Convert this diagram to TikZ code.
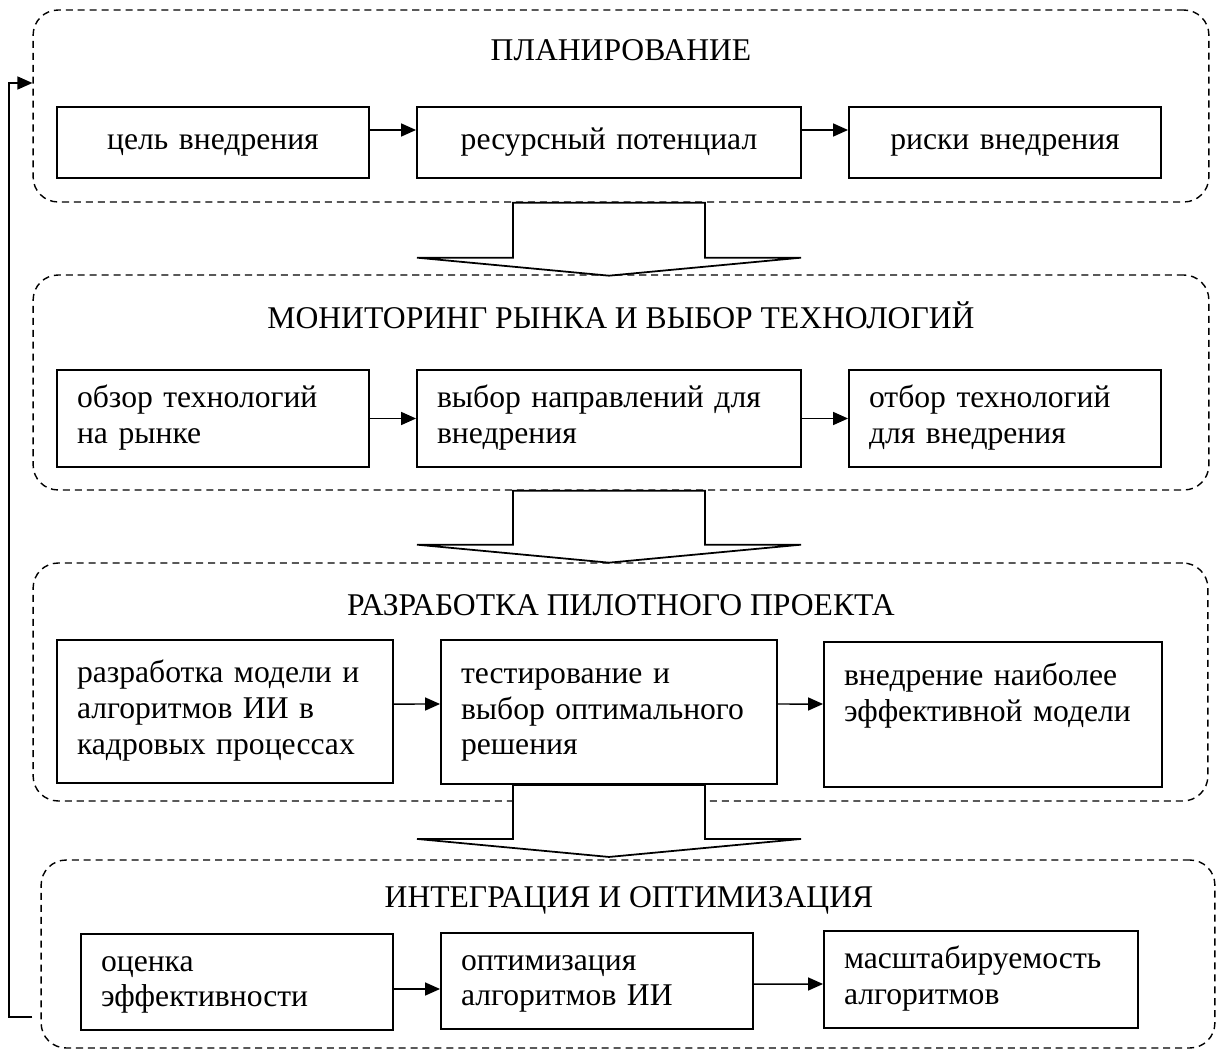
\documentclass[tikz,border=0pt]{standalone}
\usepackage{fontspec}
\setmainfont{Liberation Serif}
\usepackage{tikz}
\usetikzlibrary{shapes,arrows.meta,positioning,calc}

\tikzset{
    stage/.style={draw, dash pattern=on 4pt off 2.8pt, line width=0.8pt, rounded corners=0.5cm, inner sep=0pt},
    box/.style={draw, line width=1.1pt, inner xsep=0.4cm, inner ysep=0pt, align=left,
        execute at begin node=\strut, execute at end node=\strut},
    arr/.style={-{Triangle[length=0.3cm,width=0.26cm]}, line width=0.85pt},
    bigarrow/.style={draw, fill=white, line width=1pt},
    title/.style={inner sep=0pt}
}

\begin{document}
\begin{tikzpicture}[x=0.02cm, y=-0.02cm, font=\fontsize{18}{20.3}\selectfont]
        \useasboundingbox (0,0) rectangle (1217,1050);

        \node[stage, minimum width=23.52cm, minimum height=3.84cm] (plan) at (621,106) {};
        \node[stage, minimum width=23.52cm, minimum height=4.3cm] (mon) at (621,382.5) {};
        \node[stage, minimum width=23.5cm, minimum height=4.76cm] (dev) at (620.5,682) {};
        \node[stage, minimum width=23.48cm, minimum height=3.76cm] (integ) at (628,954) {};

        \node[title] (tplan) at (621,50) {ПЛАНИРОВАНИЕ};
        \node[title] (tmon) at (621,315) {МОНИТОРИНГ РЫНКА И ВЫБОР ТЕХНОЛОГИЙ};
        \node[title] (tdev) at (621,605) {РАЗРАБОТКА ПИЛОТНОГО ПРОЕКТА};
        \node[title] (tinteg) at (629,900) {ИНТЕГРАЦИЯ И ОПТИМИЗАЦИЯ};

        \node[box, align=center, text width=5.44cm, minimum height=1.42cm] (c1) at (213,142.5) {цель внедрения};
        \node[box, align=center, text width=6.88cm, minimum height=1.42cm] (c2) at (609,142.5) {ресурсный потенциал};
        \node[box, align=center, text width=5.44cm, minimum height=1.42cm] (c3) at (1005,142.5) {риски внедрения};

        \node[box, text width=5.44cm, minimum height=1.94cm] (m1) at (213,418.5) {обзор технологий\\на рынке};
        \node[box, text width=6.88cm, minimum height=1.94cm] (m2) at (609,418.5) {выбор направлений для\\внедрения};
        \node[box, text width=5.44cm, minimum height=1.94cm] (m3) at (1005,418.5) {отбор технологий\\для внедрения};

        \node[box, text width=5.92cm, minimum height=2.86cm] (r1) at (225,711.5) {разработка модели и\\алгоритмов ИИ в\\кадровых процессах};
        \node[box, text width=5.92cm, minimum height=2.88cm] (r2) at (609,712) {тестирование и\\выбор оптимального\\решения};
        \node[box, text width=5.96cm, minimum height=2.9cm] (r3) at (993,714.5) {внедрение наиболее\\эффективной модели\\};

        \node[box, text width=5.44cm, minimum height=1.92cm] (i1) at (237,982) {оценка\\эффективности};
        \node[box, text width=5.44cm, minimum height=1.92cm] (i2) at (597,981) {оптимизация\\алгоритмов ИИ};
        \node[box, text width=5.48cm, minimum height=1.94cm] (i3) at (981,979.5) {масштабируемость\\алгоритмов};

        \draw[bigarrow] ([xshift=-1.92cm]c2.south |- plan.south) -- ++(0,55) -- ++(-96,0) -- ++(192,18) -- ++(192,-18) -- ++(-96,0) -- ++(0,-55) -- cycle;
        \draw[bigarrow] ([xshift=-1.92cm]m2.south |- mon.south) -- ++(0,54) -- ++(-96,0) -- ++(192,18) -- ++(192,-18) -- ++(-96,0) -- ++(0,-54) -- cycle;
        \draw[bigarrow] ([xshift=-1.92cm]r2.south) -- ++(0,54) -- ++(-96,0) -- ++(192,18) -- ++(192,-18) -- ++(-96,0) -- ++(0,-54) -- cycle;

        \draw[arr] ([yshift=0.25cm]c1.east) -- ([yshift=0.25cm]c2.west);
        \draw[arr] ([yshift=0.25cm]c2.east) -- ([yshift=0.25cm]c3.west);
        \draw[arr] (m1) -- (m2);
        \draw[arr] (m2) -- (m3);
        \draw[arr] ([yshift=0.15cm]r1.east) -- ([yshift=0.16cm]r2.west);
        \draw[arr] ([yshift=0.16cm]r2.east) -- ([yshift=0.21cm]r3.west);
        \draw[arr] ([yshift=-0.14cm]i1.east) -- ([yshift=-0.16cm]i2.west);
        \draw[arr] ([yshift=-0.06cm]i2.east) -- ([yshift=-0.09cm]i3.west);

        \coordinate (fbbot) at (9,1017);
        \coordinate (fbtop) at (9,83);
        \draw[arr] ([xshift=-0.16cm]integ.west |- fbbot) -| (fbtop) -- (plan.west |- fbtop);
\end{tikzpicture}
\end{document}
